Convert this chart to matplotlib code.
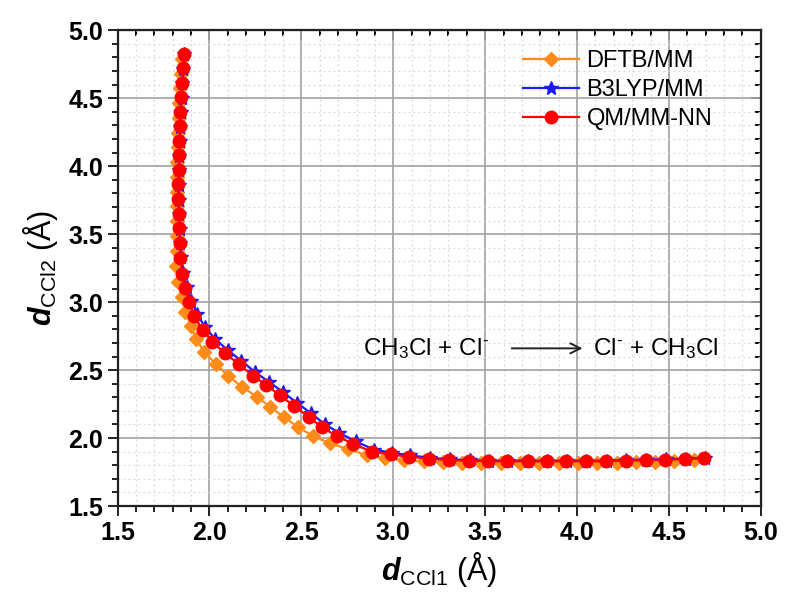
import matplotlib.pyplot as plt
from matplotlib.ticker import MultipleLocator

plt.rcParams['font.family'] = ['Liberation Sans', 'DejaVu Sans']
plt.rcParams['mathtext.fontset'] = 'custom'
plt.rcParams['mathtext.rm'] = 'Liberation Sans'
plt.rcParams['mathtext.it'] = 'Liberation Sans:italic:bold'
plt.rcParams['mathtext.bf'] = 'Liberation Sans:bold'

# reaction path, QM/MM-NN (red)
nn_x = [1.862, 1.855, 1.850, 1.845, 1.841, 1.838, 1.835, 1.833, 1.832, 1.831,
        1.831, 1.832, 1.834, 1.837, 1.842, 1.852, 1.868, 1.891, 1.918, 1.962,
        2.016, 2.085, 2.160, 2.236, 2.308, 2.385, 2.461, 2.539, 2.612, 2.693,
        2.783, 2.884, 2.985, 3.085, 3.197, 3.304, 3.413, 3.518, 3.621, 3.732,
        3.835, 3.940, 4.047, 4.158, 4.265, 4.374, 4.480, 4.588, 4.691]
nn_y = [4.829, 4.722, 4.615, 4.508, 4.401, 4.294, 4.187, 4.080, 3.973, 3.866,
        3.759, 3.652, 3.545, 3.438, 3.325, 3.206, 3.101, 2.998, 2.897, 2.794,
        2.708, 2.623, 2.544, 2.458, 2.390, 2.314, 2.235, 2.157, 2.079, 2.015,
        1.956, 1.899, 1.880, 1.863, 1.848, 1.838, 1.833, 1.829, 1.829, 1.829,
        1.829, 1.829, 1.829, 1.830, 1.833, 1.837, 1.840, 1.845, 1.851]

# B3LYP/MM (blue)
b3_x = [1.864, 1.858, 1.853, 1.848, 1.844, 1.841, 1.838, 1.836, 1.835, 1.834,
        1.834, 1.835, 1.837, 1.840, 1.846, 1.858, 1.876, 1.902, 1.932, 1.976,
        2.030, 2.099, 2.174, 2.250, 2.322, 2.399, 2.475, 2.553, 2.626, 2.706,
        2.795, 2.894, 2.993, 3.092, 3.202, 3.308, 3.416, 3.521, 3.624, 3.735,
        3.838, 3.943, 4.050, 4.161, 4.268, 4.377, 4.483, 4.591, 4.694]
b3_y = [4.825, 4.718, 4.611, 4.504, 4.397, 4.290, 4.183, 4.076, 3.969, 3.862,
        3.755, 3.648, 3.541, 3.434, 3.330, 3.215, 3.112, 3.012, 2.915, 2.815,
        2.730, 2.647, 2.568, 2.483, 2.415, 2.339, 2.260, 2.182, 2.103, 2.038,
        1.976, 1.915, 1.892, 1.872, 1.855, 1.843, 1.837, 1.833, 1.833, 1.833,
        1.833, 1.833, 1.833, 1.834, 1.837, 1.841, 1.844, 1.849, 1.855]

# DFTB/MM (orange)
dftb_x = [1.852, 1.846, 1.841, 1.836, 1.832, 1.829, 1.826, 1.824, 1.823, 1.822,
          1.822, 1.822, 1.822, 1.821, 1.820, 1.831, 1.850, 1.868, 1.899, 1.928,
          1.971, 2.036, 2.103, 2.176, 2.258, 2.330, 2.406, 2.484, 2.563, 2.657,
          2.756, 2.856, 2.956, 3.060, 3.165, 3.270, 3.375, 3.480, 3.585, 3.690,
          3.795, 3.900, 4.005, 4.110, 4.215, 4.320, 4.425, 4.530, 4.635]
dftb_y = [4.790, 4.681, 4.573, 4.464, 4.356, 4.247, 4.139, 4.030, 3.921, 3.813,
          3.704, 3.596, 3.487, 3.378, 3.265, 3.149, 3.039, 2.929, 2.824, 2.726,
          2.635, 2.543, 2.456, 2.377, 2.304, 2.230, 2.152, 2.079, 2.015, 1.961,
          1.917, 1.875, 1.851, 1.838, 1.828, 1.822, 1.818, 1.816, 1.815, 1.815,
          1.815, 1.815, 1.816, 1.817, 1.819, 1.822, 1.826, 1.831, 1.837]

fig = plt.figure(figsize=(8, 6.06), dpi=100)
ax = fig.add_axes([0.147, 0.165, 0.804, 0.785])

ax.plot(dftb_x, dftb_y, color='#ff8c1a', lw=1.6, marker='D', ms=7.5,
        label='DFTB/MM')
ax.plot(b3_x, b3_y, color='#1a1aff', lw=1.6, marker='*', ms=10,
        label='B3LYP/MM')
ax.plot(nn_x, nn_y, color='#ff0000', lw=1.6, marker='o', ms=9,
        label='QM/MM-NN')

ax.set_xlim(1.5, 5.0)
ax.set_ylim(1.5, 5.0)
ax.xaxis.set_major_locator(MultipleLocator(0.5))
ax.yaxis.set_major_locator(MultipleLocator(0.5))
ax.xaxis.set_minor_locator(MultipleLocator(0.1))
ax.yaxis.set_minor_locator(MultipleLocator(0.1))

ax.grid(which='major', color='#a8a8a8', lw=1.3)
ax.grid(which='minor', color='#d8d8d8', lw=0.9, ls=(0, (1.5, 2.5)))
ax.set_axisbelow(True)

for s in ax.spines.values():
    s.set_linewidth(1.6)
    s.set_color('#222222')

ax.tick_params(which='both', left=True, bottom=True, top=False, right=False,
               direction='out', width=1.4, color='#222222')
ax.tick_params(which='major', length=7, labelsize=18)
ax.tick_params(which='minor', length=4)
for lab in ax.get_xticklabels() + ax.get_yticklabels():
    lab.set_fontweight('bold')

# inward ticks on top and right
ax2 = ax.secondary_xaxis('top')
ax2.xaxis.set_major_locator(MultipleLocator(0.5))
ax2.xaxis.set_minor_locator(MultipleLocator(0.1))
ax2.tick_params(which='both', direction='in', width=1.4, labeltop=False)
ax2.tick_params(which='major', length=7)
ax2.tick_params(which='minor', length=4)
ax3 = ax.secondary_yaxis('right')
ax3.yaxis.set_major_locator(MultipleLocator(0.5))
ax3.yaxis.set_minor_locator(MultipleLocator(0.1))
ax3.tick_params(which='both', direction='in', width=1.4, labelright=False)
ax3.tick_params(which='major', length=7)
ax3.tick_params(which='minor', length=4)

ax.set_xlabel(r'$d_{\mathrm{CCl1}}$ (Å)', fontsize=22, labelpad=4)
ax.set_ylabel(r'$d_{\mathrm{CCl2}}$ (Å)', fontsize=22, labelpad=6)

ax.text(2.836, 2.66, r'CH$_3$Cl + Cl$^{\text{-}}$', fontsize=17.5,
        va='center', ha='left')
ax.annotate('', xy=(4.045, 2.66), xytext=(3.63, 2.66),
            arrowprops=dict(arrowstyle='->', color='#222222', lw=1.4,
                            mutation_scale=18))
ax.text(4.086, 2.66, r'Cl$^{\text{-}}$ + CH$_3$Cl', fontsize=17.5,
        va='center', ha='left')

leg = ax.legend(loc='upper left', frameon=False, fontsize=17,
                handlelength=2.4, handletextpad=0.3, borderaxespad=0,
                borderpad=0, labelspacing=0.3,
                bbox_to_anchor=(0.630, 0.958))

fig.savefig('out.png', dpi=100)
